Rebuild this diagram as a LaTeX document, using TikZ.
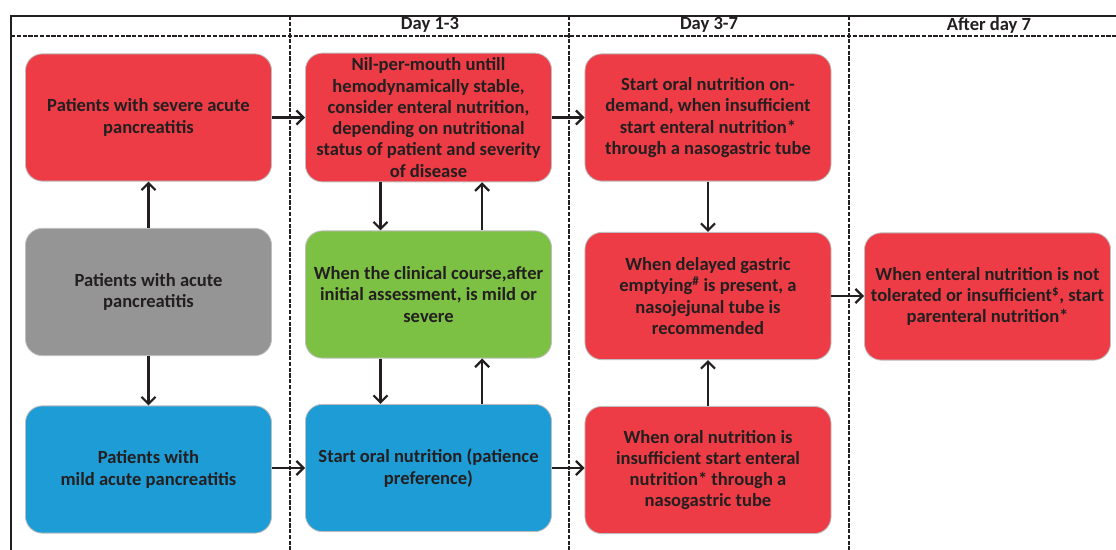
\documentclass[tikz,border=0pt]{standalone}
\usepackage{fontspec}
\setmainfont{Carlito}
\usetikzlibrary{arrows.meta}
\definecolor{boxred}{RGB}{237,60,69}
\definecolor{boxgray}{RGB}{149,149,149}
\definecolor{boxgreen}{RGB}{124,193,67}
\definecolor{boxblue}{RGB}{30,156,214}
\definecolor{ink}{RGB}{35,31,32}
\definecolor{rim}{RGB}{190,190,190}

\begin{document}
\begin{tikzpicture}[x=0.025cm, y=-0.025cm,
  stage/.style={draw=rim, line width=0.6pt, rounded corners=0.42cm,
    minimum width=6.15cm, minimum height=3.18cm, align=center, text=ink,
    font=\fontsize{13.2}{15.1}\selectfont\bfseries},
  flow/.style={draw=ink, line width=1.6pt, -{Straight Barb[length=5pt,width=10pt]}},
  grid/.style={draw=ink, line width=1.1pt, dash pattern=on 3pt off 1.1pt},
  frame/.style={draw=ink, line width=1.8pt},
  daylabel/.style={text=ink, font=\fontsize{13.2}{15}\selectfont\bfseries}]
  \useasboundingbox (0,0) rectangle (1116,550);

  % Frame and day columns
  \draw[frame] (11,550) -- (11,16) -- (1116,16);
  \draw[grid] (11,36) -- (1116,36);
  \foreach \x in {290,569,849}
    \draw[grid] (\x,16) -- (\x,550);
  \node[daylabel] (day13) at (430,25) {Day 1-3};
  \node[daylabel] (day37) at (709,25) {Day 3-7};
  \node[daylabel] (day7) at (989,25) {After day 7};

  % Patients
  \node[stage, fill=boxred] (severe) at (148.5,117.5) {Patients with severe acute\\pancreatitis};
  \node[stage, fill=boxgray] (acute) at (148.5,292) {Patients with acute\\pancreatitis};
  \node[stage, fill=boxblue] (mild) at (148.5,469.5) {Patients with\\mild acute pancreatitis};

  % Day 1-3
  \node[stage, fill=boxred] (nil) at (428.5,117.5) {Nil-per-mouth untill\\hemodynamically stable,\\consider enteral nutrition,\\depending on nutritional\\status of patient and severity\\of disease};
  \node[stage, fill=boxgreen] (course) at (428.5,294.5) {When the clinical course,after\\initial assessment, is mild or\\severe};
  \node[stage, fill=boxblue] (oral) at (428.5,468) {Start oral nutrition (patience\\preference)};

  % Day 3-7
  \node[stage, fill=boxred] (demand) at (708,117.5) {Start oral nutrition on-\\demand, when insufficient\\start enteral nutrition*\\through a nasogastric tube};
  \node[stage, fill=boxred] (delayed) at (708,296) {When delayed gastric\\emptying\textsuperscript{\#} is present, a\\nasojejunal tube is\\recommended};
  \node[stage, fill=boxred] (insuff) at (708,470) {When oral nutrition is\\insufficient start enteral\\nutrition* through a\\nasogastric tube};

  % After day 7
  \node[stage, fill=boxred] (parent) at (987.5,296.5) {When enteral nutrition is not\\tolerated or insufficient\textsuperscript{\$}, start\\parenteral nutrition*};

  % Arrows
  \draw[flow] (acute) -- (severe);
  \draw[flow] (acute) -- (mild);
  \draw[flow] (severe.east) -- (severe.east -| nil.west);
  \draw[flow] (mild.east |- oral.west) -- (oral.west);
  \draw[flow] (nil.east) -- (nil.east -| demand.west);
  \draw[flow] (oral.east) -- (oral.east -| insuff.west);
  \draw[flow] ([xshift=-1.2cm]nil.south) -- ([xshift=-1.2cm]nil.south |- course.north);
  \draw[flow] ([xshift=1.34cm]course.north) -- ([xshift=1.34cm]course.north |- nil.south);
  \draw[flow] ([xshift=-1.2cm]course.south) -- ([xshift=-1.2cm]course.south |- oral.north);
  \draw[flow] ([xshift=1.34cm]oral.north) -- ([xshift=1.34cm]oral.north |- course.south);
  \draw[flow] (demand) -- (delayed);
  \draw[flow] (insuff) -- (delayed);
  \draw[flow] (delayed.east) -- (delayed.east -| parent.west);
\end{tikzpicture}
\end{document}
